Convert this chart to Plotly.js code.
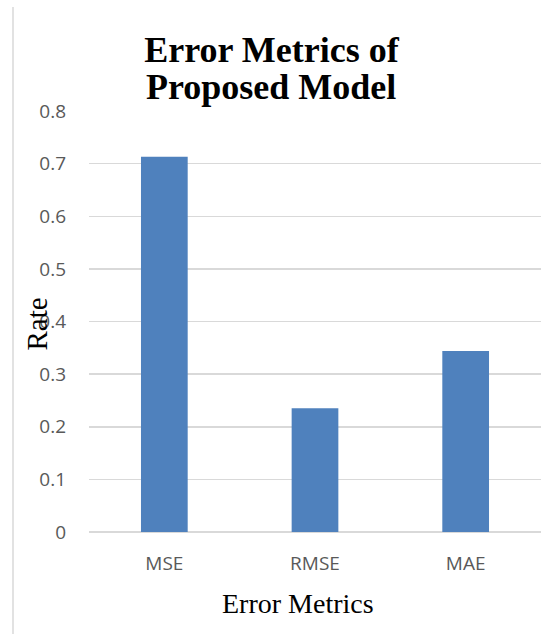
<!DOCTYPE html>
<html>
<head>
<meta charset="utf-8">
<script src="https://cdn.plot.ly/plotly-3.0.1.min.js"></script>
<style>html,body{margin:0;padding:0;background:#fff;}#chart{width:551px;height:634px;}</style>
</head>
<body>
<div id="chart"></div>
<script>
const categories = ["MSE", "RMSE", "MAE"];
const rates = [0.713, 0.235, 0.344];
const yTicks = [0, 0.1, 0.2, 0.3, 0.4, 0.5, 0.6, 0.7, 0.8];
const yTickLabels = ["0", "0.1", "0.2", "0.3", "0.4", "0.5", "0.6", "0.7", "0.8"];
const titleLine1 = "Error Metrics of";
const titleLine2 = "Proposed Model";
const xTitle = "Error Metrics";
const yTitle = "Rate";

const serif = "Liberation Serif, Times New Roman, serif";
const sans = "Open Sans, sans-serif";

const trace = {
  type: "bar",
  x: categories,
  y: rates,
  marker: {color: "#4f81bd"},
  hoverinfo: "x+y"
};

const layout = {
  width: 551,
  height: 634,
  margin: {l: 89, r: 10, t: 111, b: 102},
  paper_bgcolor: "#ffffff",
  plot_bgcolor: "#ffffff",
  showlegend: false,
  bargap: 0.69,
  title: {
    text: titleLine1,
    font: {family: serif, size: 36, color: "#000000", weight: "bold"},
    xref: "container", x: 271.5 / 551, xanchor: "center",
    yref: "container", y: 1 - 61 / 634, yanchor: "bottom", pad: {b: -1}
  },
  xaxis: {
    type: "category",
    showgrid: false,
    showline: false,
    zeroline: false,
    ticks: "",
    ticklabelstandoff: 18,
    tickfont: {family: sans, size: 19, color: "#595959"}
  },
  yaxis: {
    range: [0, 0.8],
    tickvals: yTicks,
    ticktext: yTickLabels,
    showgrid: true,
    gridcolor: "#d9d9d9",
    gridwidth: 1.5,
    zeroline: true,
    zerolinecolor: "#d9d9d9",
    zerolinewidth: 1.5,
    showline: false,
    ticks: "",
    ticklabelstandoff: 22,
    tickfont: {family: sans, size: 19, color: "#595959"}
  },
  annotations: [
    {
      text: titleLine2, showarrow: false,
      xref: "paper", x: (271 - 89) / 452, xanchor: "center",
      yref: "paper", y: (532 - 87) / 421, yanchor: "middle",
      font: {family: serif, size: 36, color: "#000000", weight: "bold"}
    },
    {
      text: yTitle, textangle: -90, showarrow: false,
      xref: "paper", x: (36.5 - 89) / 452, xanchor: "center",
      yref: "paper", y: (532 - 324) / 421, yanchor: "middle",
      font: {family: serif, size: 29, color: "#000000"}
    },
    {
      text: xTitle, showarrow: false,
      xref: "paper", x: (298 - 89) / 452, xanchor: "center",
      yref: "paper", y: (532 - 603) / 421, yanchor: "middle",
      font: {family: serif, size: 28, color: "#000000"}
    }
  ],
  shapes: [
    {
      type: "line", xref: "paper", yref: "paper",
      x0: (13 - 89) / 452, x1: (13 - 89) / 452,
      y0: (532 - 634) / 421, y1: (532 - 7) / 421,
      line: {color: "#d9d9d9", width: 1.5}
    }
  ]
};

Plotly.newPlot("chart", [trace], layout, {displayModeBar: false, staticPlot: true});
</script>
</body>
</html>
